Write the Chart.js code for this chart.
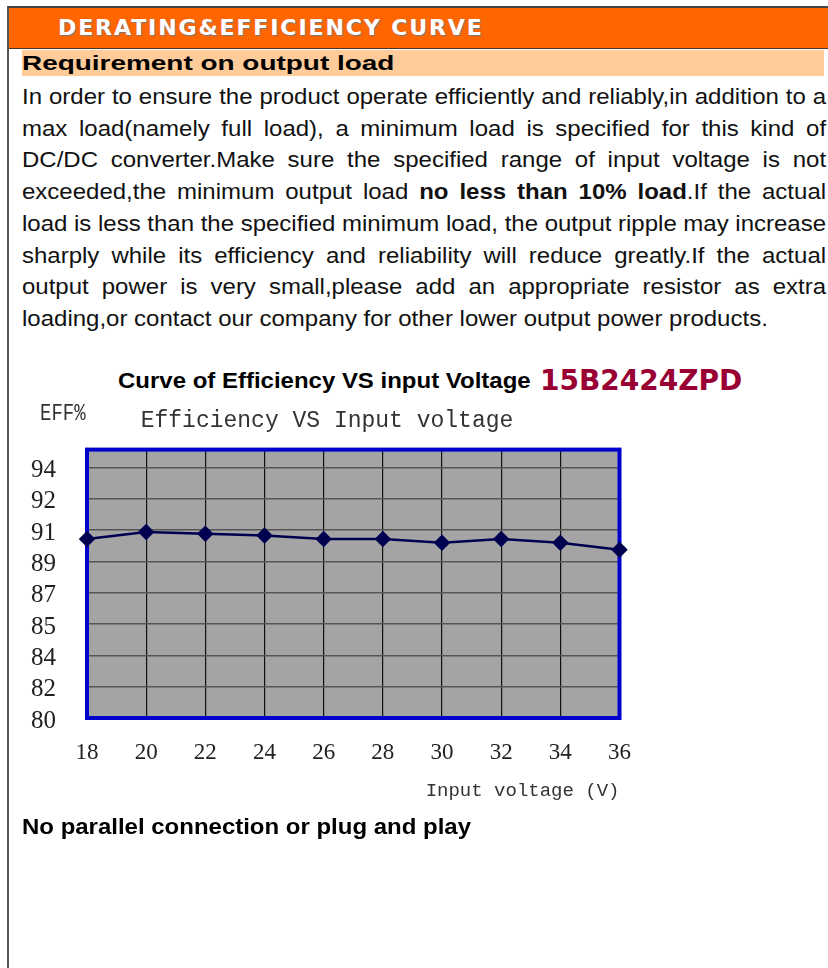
<!DOCTYPE html>
<html>
<head>
<meta charset="utf-8">
<script src="https://cdn.jsdelivr.net/npm/chart.js@4.4.0/dist/chart.umd.min.js"></script>
<style>
  body { margin: 0; width: 828px; height: 968px; background: #fff; position: relative; overflow: hidden; font-family: "Liberation Sans", Arial, sans-serif; color: #111; }
  .frame { position: absolute; left: 7px; top: 6px; width: 840px; height: 980px; border-left: 2px solid #555; border-top: 2px solid #444; }
  .header { position: absolute; left: 9px; top: 8px; width: 819px; height: 40px; background: #ff6600; border-bottom: 1px solid #553322; }
  .header span { position: absolute; left: 49px; top: 0; line-height: 40px; color: #fff; font-family: "DejaVu Sans", sans-serif; font-weight: bold; font-size: 22px; letter-spacing: 1.9px; text-shadow: 1px 1px 1px #777; }
  .band { position: absolute; left: 22px; top: 50px; width: 802px; height: 26px; background: #ffcc99; }
  .band span { position: absolute; left: 0; top: 0; font-weight: bold; font-size: 21px; line-height: 26px; color: #000; white-space: nowrap; transform: scaleX(1.33); transform-origin: 0 0; }
  /* the source text is stretched sideways, so each block is scaled on x */
  .para { position: absolute; left: 22px; top: 81px; width: 737px; font-size: 22px; line-height: 31.7px; transform: scaleX(1.091); transform-origin: 0 0; }
  .para div { text-align: justify; text-align-last: justify; word-spacing: -2px; }
  .para div.last { text-align-last: left; word-spacing: 0; }
  .ctitle { position: absolute; left: 118px; top: 366px; line-height: 30px; white-space: nowrap; font-weight: bold; font-size: 22px; color: #000; transform: scaleX(1.09); transform-origin: 0 0; }
  .model { position: absolute; left: 540px; top: 366px; line-height: 30px; font-family: "DejaVu Sans", sans-serif; font-weight: bold; font-size: 28px; color: #990033; }
  .chart-box { position: absolute; left: 0; top: 390px; width: 652px; height: 430px; }
  .note { position: absolute; left: 22px; top: 812px; line-height: 30px; white-space: nowrap; font-weight: bold; font-size: 22px; color: #000; transform: scaleX(1.09); transform-origin: 0 0; }
</style>
</head>
<body>
<div class="frame"></div>
<div class="header"><span>DERATING&amp;EFFICIENCY CURVE</span></div>
<div class="band"><span>Requirement on output load</span></div>
<div class="para">
  <div>In order to ensure the product operate efficiently and reliably,in addition to a</div>
  <div>max load(namely full load), a minimum load is specified for this kind of</div>
  <div>DC/DC converter.Make sure the specified range of input voltage is not</div>
  <div>exceeded,the minimum output load <b>no less than 10% load</b>.If the actual</div>
  <div>load is less than the specified minimum load, the output ripple may increase</div>
  <div>sharply while its efficiency and reliability will reduce greatly.If the actual</div>
  <div>output power is very small,please add an appropriate resistor as extra</div>
  <div class="last">loading,or contact our company for other lower output power products.</div>
</div>
<div class="ctitle">Curve of Efficiency VS input Voltage</div>
<div class="model">15B2424ZPD</div>
<div class="chart-box"><canvas id="effChart" width="652" height="430"></canvas></div>
<div class="note">No parallel connection or plug and play</div>

<script>
// input voltage (V) and efficiency (%)
const voltages = [18, 20, 22, 24, 26, 28, 30, 32, 34, 36];
const efficiency = [90.0, 90.4, 90.3, 90.2, 90.0, 90.0, 89.8, 90.0, 89.8, 89.4];

// the y axis runs 80..95 with a 1.75 step, labels are rounded to whole numbers
const yTickValues = [80, 81.75, 83.5, 85.25, 87, 88.75, 90.5, 92.25, 94];
const yTickLabels = ['80', '82', '84', '85', '87', '89', '91', '92', '94'];

const plotBackground = {
    id: 'plotBackground',
    beforeDraw(chart) {
        const { ctx, chartArea: a } = chart;
        ctx.save();
        ctx.fillStyle = '#a4a4a4';
        ctx.fillRect(a.left, a.top, a.right - a.left, a.bottom - a.top);
        ctx.restore();
    },
    beforeDatasetsDraw(chart) {
        const { ctx, chartArea: a } = chart;
        ctx.save();
        ctx.strokeStyle = '#0000cc';
        ctx.lineWidth = 4;
        ctx.strokeRect(a.left, a.top, a.right - a.left, a.bottom - a.top);
        ctx.restore();
    },
    afterDraw(chart) {
        // "EFF%" sits above the y axis labels
        const ctx = chart.ctx;
        ctx.save();
        ctx.fillStyle = '#333';
        ctx.font = '19px "Liberation Mono"';
        ctx.textBaseline = 'middle';
        ctx.translate(40, 23);
        ctx.scale(1, 1.3);
        ctx.fillText('EFF%', 0, 0);
        ctx.restore();
    }
};

const config = {
    type: 'line',
    data: {
        datasets: [{
            label: 'Efficiency',
            data: voltages.map((v, i) => ({ x: v, y: efficiency[i] })),
            borderColor: '#000050',
            backgroundColor: '#000050',
            borderWidth: 2.5,
            pointStyle: 'rectRot',
            pointRadius: 6.5,
            pointHoverRadius: 6.5,
            tension: 0,
            clip: false
        }]
    },
    plugins: [plotBackground],
    options: {
        responsive: false,
        animation: false,
        layout: { padding: { left: 29, right: 27, top: 0, bottom: 15 } },
        plugins: {
            legend: { display: false },
            tooltip: { enabled: false },
            title: {
                display: true,
                text: 'Efficiency VS Input voltage',
                color: '#333',
                font: { family: 'Liberation Mono', size: 23, weight: 'normal' },
                padding: { top: 17, bottom: 15 }
            }
        },
        scales: {
            x: {
                type: 'linear',
                min: 18,
                max: 36,
                border: { display: false },
                grid: { color: '#111', lineWidth: 1.2, drawTicks: false },
                afterFit: axis => {
                    axis.height = 87;
                },
                ticks: {
                    stepSize: 2,
                    padding: 21,
                    color: '#222',
                    font: { family: 'Liberation Serif', size: 23 }
                },
                title: {
                    display: true,
                    text: 'Input voltage (V)',
                    align: 'end',
                    color: '#333',
                    font: { family: 'Liberation Mono', size: 19 },
                    padding: { top: 13, bottom: 3 }
                }
            },
            y: {
                type: 'linear',
                min: 80,
                max: 95,
                border: { display: false },
                grid: { color: '#555', lineWidth: 1.5, drawTicks: false },
                afterBuildTicks: axis => {
                    axis.ticks = yTickValues.map(v => ({ value: v }));
                },
                afterFit: axis => {
                    axis.width = 58;
                },
                ticks: {
                    autoSkip: false,
                    padding: 31,
                    labelOffset: 3,
                    color: '#222',
                    font: { family: 'Liberation Serif', size: 25 },
                    callback: (value, index) => yTickLabels[index]
                }
            }
        }
    }
};

new Chart(document.getElementById('effChart'), config);
</script>
</body>
</html>
